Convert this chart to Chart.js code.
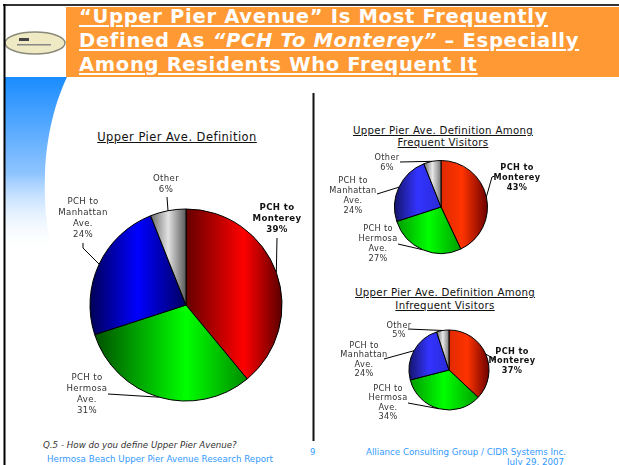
<!DOCTYPE html>
<html>
<head>
<meta charset="utf-8">
<script src="https://cdn.jsdelivr.net/npm/chart.js@4"></script>
<style>
  body { margin: 0; background: #fff; }
  #slide { position: relative; width: 619px; height: 465px; overflow: hidden; background: #fff; font-family: 'DejaVu Sans', sans-serif; }
  .abs { position: absolute; }
  #header { left: 66px; top: 7px; width: 553px; height: 70px; background: #ff9933; }
  #headline { left: 79px; top: 5px; width: 540px; color: #fff; font-weight: bold; font-size: 19.5px; letter-spacing: 0.7px; line-height: 24px; white-space: nowrap; }
  #headline div { text-decoration: underline; text-decoration-thickness: 2px; text-underline-offset: 2px; }
  .ctitle { text-align: center; color: #111; text-decoration: underline; white-space: nowrap; }
  canvas { position: absolute; }
  .foot { position: absolute; white-space: nowrap; }
</style>
</head>
<body>
<div id="slide">
  <svg class="abs" style="left:0;top:0" width="619" height="465">
    <defs>
      <linearGradient id="sideBlue" x1="0" y1="0" x2="0" y2="1">
        <stop offset="0" stop-color="#1a8cff"/>
        <stop offset="0.55" stop-color="#8ec4ff"/>
        <stop offset="1" stop-color="#ffffff" stop-opacity="0"/>
      </linearGradient>
    </defs>
    <path d="M5,77 L67,77 C56,100 46,135 45,175 C44,210 47,235 55,252 L5,252 Z" fill="url(#sideBlue)"/>
    <ellipse cx="35" cy="43" rx="30" ry="11" fill="#efe9c4" stroke="#8a8a7a" stroke-width="1.5"/>
    <rect x="19" y="38" width="10" height="3" fill="#444"/>
    <rect x="17" y="44" width="34" height="1.5" fill="#888"/>
    <line x1="3" y1="5" x2="619" y2="5" stroke="#333" stroke-width="2"/>
    <line x1="4.5" y1="4" x2="4.5" y2="465" stroke="#000" stroke-width="2"/>
    <line x1="313.5" y1="93" x2="313.5" y2="441" stroke="#111" stroke-width="2"/>
  </svg>
  <div id="header" class="abs"></div>
  <div id="headline" class="abs">
    <div>“Upper Pier Avenue” Is Most Frequently</div>
    <div>Defined As <i>“PCH To Monterey”</i> – Especially</div>
    <div>Among Residents Who Frequent It</div>
  </div>

  <div class="abs ctitle" style="left:77px;top:130px;width:200px;font-size:11.5px;letter-spacing:0.45px;line-height:14px">Upper Pier Ave. Definition</div>
  <div class="abs ctitle" style="left:343px;top:125px;width:200px;font-size:10.2px;letter-spacing:0.3px;line-height:12.4px">Upper Pier Ave. Definition Among<br>Frequent Visitors</div>
  <div class="abs ctitle" style="left:345px;top:287px;width:200px;font-size:10.2px;letter-spacing:0.3px;line-height:12.6px">Upper Pier Ave. Definition Among<br>Infrequent Visitors</div>

  <canvas id="chart-all"></canvas>
  <canvas id="chart-frequent"></canvas>
  <canvas id="chart-infrequent"></canvas>

  <div class="foot" style="left:43px;top:440px;font-size:8.7px;font-style:italic;color:#333">Q.5 - How do you define Upper Pier Avenue?</div>
  <div class="foot" style="left:47px;top:454px;font-size:8.7px;color:#3399ff">Hermosa Beach Upper Pier Avenue Research Report</div>
  <div class="foot" style="left:310px;top:447px;font-size:8.6px;color:#3399ff">9</div>
  <div class="foot" style="left:366px;top:447px;font-size:8.7px;color:#3399ff">Alliance Consulting Group / CIDR Systems Inc.</div>
  <div class="foot" style="left:507px;top:457px;font-size:8.7px;color:#3399ff">July 29, 2007</div>
</div>

<script>
// answer categories, clockwise from 12 o'clock
const categories = ['PCH to Monterey', 'PCH to Hermosa Ave.', 'PCH to Manhattan Ave.', 'Other'];
const labelLines = [['PCH to', 'Monterey'], ['PCH to', 'Hermosa', 'Ave.'], ['PCH to', 'Manhattan', 'Ave.'], ['Other']];

// percentages
const allValues = [39, 31, 24, 6];
const frequentValues = [43, 27, 24, 6];
const infrequentValues = [37, 34, 24, 5];

// slice shading, left -> right across each slice
const bigShades = [
  [[0, '#650000'], [0.6, '#ff0000'], [1, '#580000']],
  [[0, '#005000'], [0.6, '#00ff00'], [1, '#008a00']],
  [[0, '#000055'], [0.5, '#0000ff'], [1, '#000060']],
  [[0, '#6a6a6a'], [0.5, '#e2e2e2'], [1, '#5a5a5a']]
];
const smallShades = [
  [[0, '#e02a00'], [0.45, '#ff3300'], [1, '#6a0000']],
  [[0, '#009a00'], [0.5, '#00ff00'], [1, '#00a000']],
  [[0, '#141468'], [0.5, '#3333ff'], [1, '#2a2ad8']],
  [[0, '#6a6a6a'], [0.5, '#e8e8e8'], [1, '#7a7a7a']]
];

// label spots, offsets from pie centre: text = first line centre, leader = waypoints
const bigSpots = [
  { text: [91, -97], leader: [[91, -67]] },
  { text: [-99, 73], leader: [[-78, 89]] },
  { text: [-103, -103], leader: [[-103, -57], [-103, -62]] },
  { text: [-20, -126], leader: [[-19, -108]] }
];
const frequentSpots = [
  { text: [76, -39], leader: [[51, -30], [54, -31]] },
  { text: [-63, 22], leader: [[-43, 37]] },
  { text: [-88, -26], leader: [[-64, -13]] },
  { text: [-54, -49], leader: [[-41, -45]] }
];
const infrequentSpots = [
  { text: [63, -18], leader: [[47, -10]] },
  { text: [-61, 19], leader: [[-41, 33]] },
  { text: [-85, -24], leader: [[-65, -11]] },
  { text: [-50, -44], leader: [[-41, -41]] }
];

function sliceGradient(context, shades) {
  const chart = context.chart;
  const area = chart.chartArea;
  const stops = shades[context.dataIndex];
  if (!area) return stops[1][1];
  const vals = context.dataset.data;
  const total = vals.reduce((a, b) => a + b, 0);
  const before = vals.slice(0, context.dataIndex).reduce((a, b) => a + b, 0);
  const a0 = -Math.PI / 2 + 2 * Math.PI * before / total;
  const a1 = a0 + 2 * Math.PI * vals[context.dataIndex] / total;
  const cx = (area.left + area.right) / 2;
  const r = Math.min(area.width, area.height) / 2;
  const xs = [cx, cx + r * Math.cos(a0), cx + r * Math.cos(a1)];
  if (a0 <= 0 && a1 >= 0) xs.push(cx + r);
  if (a0 <= Math.PI && a1 >= Math.PI) xs.push(cx - r);
  const g = chart.ctx.createLinearGradient(Math.min(...xs), 0, Math.max(...xs), 0);
  stops.forEach(s => g.addColorStop(s[0], s[1]));
  return g;
}

const pieLabels = {
  id: 'pieLabels',
  afterDatasetsDraw(chart, args, opts) {
    const { ctx } = chart;
    const arcs = chart.getDatasetMeta(0).data;
    const vals = chart.data.datasets[0].data;
    ctx.save();
    arcs.forEach((arc, i) => {
      const spot = opts.spots[i];
      const mid = (arc.startAngle + arc.endAngle) / 2;
      const r = arc.outerRadius;
      ctx.beginPath();
      ctx.moveTo(arc.x + Math.cos(mid) * r, arc.y + Math.sin(mid) * r);
      spot.leader.forEach(p => ctx.lineTo(arc.x + p[0], arc.y + p[1]));
      ctx.strokeStyle = '#000';
      ctx.lineWidth = 1;
      ctx.stroke();

      ctx.font = (i === 0 ? 'bold ' : '') + opts.fontSize + 'px "DejaVu Sans"';
      ctx.letterSpacing = '0.35px';
      ctx.fillStyle = i === 0 ? '#111' : '#333';
      ctx.textAlign = 'center';
      ctx.textBaseline = 'middle';
      const lines = [...labelLines[i], vals[i] + '%'];
      lines.forEach((t, k) => {
        ctx.fillText(t, arc.x + spot.text[0], arc.y + spot.text[1] + k * opts.lineHeight);
      });
    });
    ctx.restore();
  }
};

function renderPie(id, values, box, centre, radius, shades, spots, fontSize, lineHeight) {
  const canvas = document.getElementById(id);
  canvas.style.left = box.left + 'px';
  canvas.style.top = box.top + 'px';
  canvas.width = box.width;
  canvas.height = box.height;
  canvas.style.width = box.width + 'px';
  canvas.style.height = box.height + 'px';
  const side = radius * 2 + 1;
  return new Chart(canvas, {
    type: 'pie',
    data: {
      labels: categories,
      datasets: [{
        data: values,
        backgroundColor: (c) => sliceGradient(c, shades),
        borderColor: '#000',
        borderWidth: 1
      }]
    },
    options: {
      responsive: false,
      animation: false,
      events: [],
      layout: {
        padding: {
          left: centre[0] - side / 2,
          top: centre[1] - side / 2,
          right: box.width - centre[0] - side / 2,
          bottom: box.height - centre[1] - side / 2
        }
      },
      plugins: {
        legend: { display: false },
        tooltip: { enabled: false },
        pieLabels: { spots, fontSize, lineHeight }
      }
    },
    plugins: [pieLabels]
  });
}

renderPie('chart-all', allValues, { left: 30, top: 160, width: 280, height: 270 }, [156, 145], 96, bigShades, bigSpots, 8.6, 10.9);
renderPie('chart-frequent', frequentValues, { left: 325, top: 150, width: 290, height: 120 }, [116, 57], 46.5, smallShades, frequentSpots, 8.2, 9.8);
renderPie('chart-infrequent', infrequentValues, { left: 325, top: 315, width: 290, height: 110 }, [124, 55], 40, smallShades, infrequentSpots, 8.2, 9.2);
</script>
</body>
</html>
